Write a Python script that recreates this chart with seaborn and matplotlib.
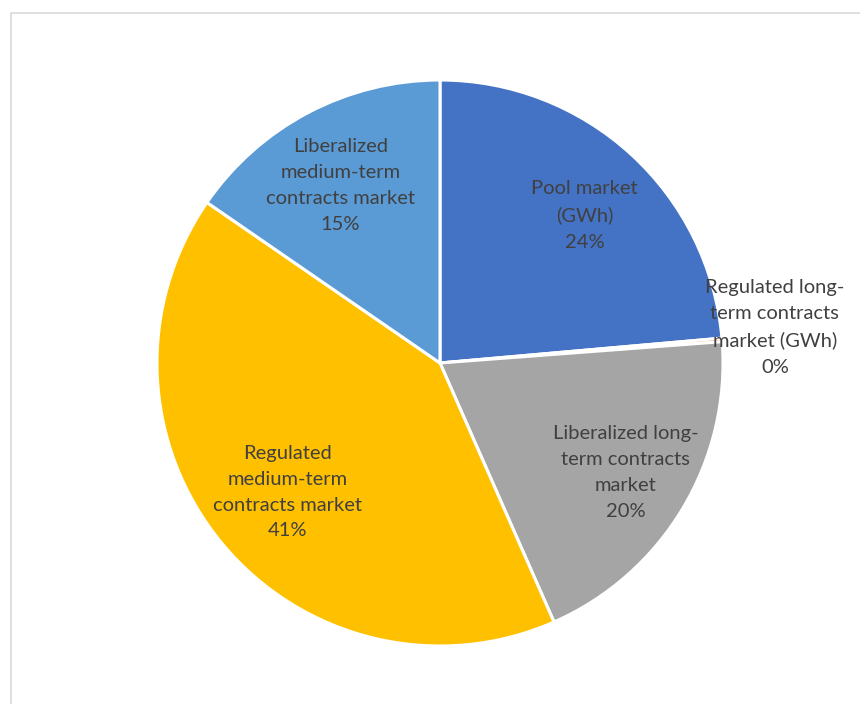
import numpy as np
import matplotlib
matplotlib.use("Agg")
import matplotlib.pyplot as plt
from matplotlib.patches import Rectangle
import seaborn as sns

# Electricity traded by market segment (share of total, %)
categories = [
    "Pool market\n(GWh)",
    "Regulated long-\nterm contracts\nmarket (GWh)",
    "Liberalized long-\nterm contracts\nmarket",
    "Regulated\nmedium-term\ncontracts market",
    "Liberalized\nmedium-term\ncontracts market",
]
shares = [23.6, 0.2, 19.6, 41.2, 15.4]
colors = ["#4472C4", "#ED7D31", "#A5A5A5", "#FFC000", "#5B9BD5"]

sns.set_theme(style="white")
plt.rcParams["font.family"] = ["Lato", "DejaVu Sans"]

W, H = 860, 704
fig = plt.figure(figsize=(W / 100, H / 100), dpi=100)
fig.patch.set_facecolor("white")

# light chart-area frame
fig.add_artist(Rectangle((10.5 / W, -0.1), 1.2, 1.1 - 12.5 / H,
                         transform=fig.transFigure, fill=False,
                         edgecolor="#D9D9D9", linewidth=1.2))

cx, cy, r = 440, 363, 283
ax = fig.add_axes([(cx - r) / W, (H - cy - r) / H, 2 * r / W, 2 * r / H])

wedges, _ = ax.pie(shares, colors=colors, startangle=90, counterclock=False,
                   radius=1, wedgeprops=dict(edgecolor="white", linewidth=2.2))
ax.set_xlim(-1, 1)
ax.set_ylim(-1, 1)
ax.axis("off")

total = sum(shares)
label_r = [0.73, 1.19, 0.763, 0.705, 0.72]
label_turn = [-1.9, 1.4, 0.4, 0.7, 1.6]
for w, cat, val, lr, turn in zip(wedges, categories, shares, label_r, label_turn):
    mid = np.deg2rad((w.theta1 + w.theta2) / 2 + turn)
    x, y = lr * np.cos(mid), lr * np.sin(mid)
    ax.text(x, y, f"{cat}\n{100 * val / total:.0f}%", ha="center", va="center",
            fontsize=14.5, color="#404040", linespacing=1.64, clip_on=False)

fig.savefig("out.png", dpi=100)
